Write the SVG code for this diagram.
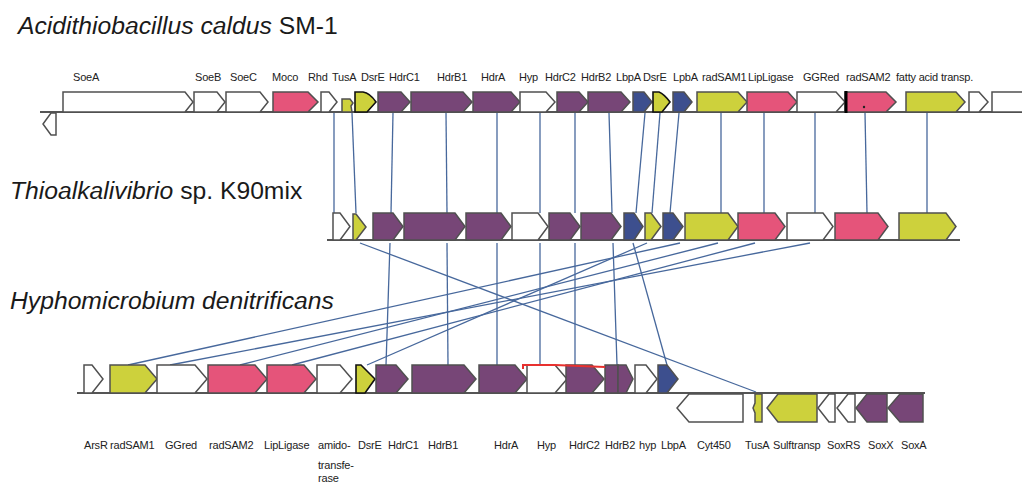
<svg xmlns="http://www.w3.org/2000/svg" width="1022" height="484" viewBox="0 0 1022 484">
<style>
.t{font-family:"Liberation Sans",Arial,sans-serif;font-size:24.7px;fill:#1a1a1a}
.i{font-style:italic}
.l{font-family:"Liberation Sans",Arial,sans-serif;font-size:11px;letter-spacing:-0.2px;fill:#222}
.g{stroke:#505050;stroke-width:1.5;stroke-linejoin:miter}
.dk{stroke:#111;stroke-width:1.6}
.w{fill:#fff}.p{fill:#774677}.k{fill:#e5547a}.y{fill:#cdd13c}.b{fill:#3d4f8e}
.base{stroke:#555;stroke-width:2}
.c line{stroke:#47689c;stroke-width:1.3}
</style>
<rect width="1022" height="484" fill="#fff"/>
<g id="titles">
<text class="t" x="18" y="34"><tspan class="i">Acidithiobacillus caldus</tspan> SM-1</text>
<text class="t" x="10" y="199"><tspan class="i">Thioalkalivibrio</tspan> sp. K90mix</text>
<text class="t i" x="10" y="309">Hyphomicrobium denitrificans</text>
</g>
<g id="connectors" class="c">
<line x1="334" y1="113" x2="334" y2="213"/>
<line x1="352" y1="113" x2="356" y2="213"/>
<line x1="393" y1="113" x2="391" y2="213"/>
<line x1="446" y1="113" x2="447" y2="213"/>
<line x1="497" y1="113" x2="497" y2="213"/>
<line x1="540" y1="113" x2="540" y2="213"/>
<line x1="575" y1="113" x2="575" y2="213"/>
<line x1="609" y1="113" x2="612" y2="213"/>
<line x1="645" y1="113" x2="636" y2="213"/>
<line x1="660" y1="113" x2="652" y2="213"/>
<line x1="679" y1="113" x2="670" y2="213"/>
<line x1="721" y1="113" x2="721" y2="213"/>
<line x1="764" y1="113" x2="764" y2="213"/>
<line x1="815" y1="113" x2="815" y2="213"/>
<line x1="865" y1="113" x2="867" y2="213"/>
<line x1="927" y1="113" x2="927" y2="213"/>
<line x1="360" y1="243" x2="756" y2="392"/>
<line x1="390" y1="243" x2="386" y2="365"/>
<line x1="447" y1="243" x2="448" y2="365"/>
<line x1="497" y1="243" x2="497" y2="365"/>
<line x1="540" y1="243" x2="540" y2="365"/>
<line x1="575" y1="243" x2="575" y2="365"/>
<line x1="613" y1="243" x2="617" y2="365"/>
<line x1="633" y1="243" x2="667" y2="365"/>
<line x1="647" y1="243" x2="367" y2="365"/>
<line x1="680" y1="243" x2="128" y2="365"/>
<line x1="718" y1="243" x2="240" y2="365"/>
<line x1="755" y1="243" x2="292" y2="365"/>
<line x1="810" y1="243" x2="170" y2="365"/>
</g>
<g id="row-acidithiobacillus">
<line class="base" x1="40" y1="112" x2="1022" y2="112"/>
<polygon class="g w" points="56,113 51,113 43,124 51,135 56,135"/>
<polygon class="g w" points="63,92 185,92 193,102 185,112 63,112"/>
<polygon class="g w" points="194,92 217,92 225,102 217,112 194,112"/>
<polygon class="g w" points="226,92 260,92 268,102 260,112 226,112"/>
<polygon class="g k" points="273,92 308,92 318,102 308,112 273,112"/>
<polygon class="g w" points="321,92 329,92 337,102 329,112 321,112"/>
<polygon class="g y" points="342,99 350,99 353,103 351,106 352,112 342,112"/>
<path class="dk y" d="M355,92 L363,92 Q370,93 376,102 L367,112 L355,112 Z"/>
<polygon class="g p" points="378,92 401,92 410,102 401,112 378,112"/>
<polygon class="g p" points="411,92 463,92 472,102 463,112 411,112"/>
<polygon class="g p" points="473,92 511,92 520,102 511,112 473,112"/>
<polygon class="g w" points="520,92 546,92 555,102 546,112 520,112"/>
<polygon class="g p" points="557,92 579,92 588,102 579,112 557,112"/>
<polygon class="g p" points="588,92 621,92 630,102 621,112 588,112"/>
<polygon class="g b" points="633,92 644,92 652,102 644,112 633,112"/>
<path class="dk y" d="M653,92 L659,92 Q664,94 670,102 L662,112 L653,112 Z"/>
<polygon class="g b" points="673,92 684,92 692,102 684,112 673,112"/>
<polygon class="g y" points="697,92 738,92 747,102 738,112 697,112"/>
<polygon class="g k" points="747,92 788,92 797,102 788,112 747,112"/>
<polygon class="g w" points="797,92 836,92 845,102 836,112 797,112"/>
<polygon class="g k" points="845,92 886,92 896,102 886,112 845,112"/>
<line x1="846" y1="91" x2="846" y2="113" stroke="#000" stroke-width="3"/>
<circle cx="864" cy="107" r="1.2" fill="#222"/>
<polygon class="g y" points="906,92 956,92 965,102 956,112 906,112"/>
<polygon class="g w" points="969,92 979,92 988,102 979,112 969,112"/>
<polygon class="g w" points="992,92 1030,92 1030,112 992,112"/>
</g>
<g id="labels-top" class="l">
<text x="73" y="81">SoeA</text>
<text x="195" y="81">SoeB</text>
<text x="230" y="81">SoeC</text>
<text x="272" y="81">Moco</text>
<text x="308" y="81">Rhd</text>
<text x="332" y="81">TusA</text>
<text x="361" y="81">DsrE</text>
<text x="389" y="81">HdrC1</text>
<text x="437" y="81">HdrB1</text>
<text x="481" y="81">HdrA</text>
<text x="519" y="81">Hyp</text>
<text x="545" y="81">HdrC2</text>
<text x="581" y="81">HdrB2</text>
<text x="616" y="81">LbpA</text>
<text x="643" y="81">DsrE</text>
<text x="673" y="81">LpbA</text>
<text x="702" y="81">radSAM1</text>
<text x="748" y="81">LipLigase</text>
<text x="803" y="81">GGRed</text>
<text x="846" y="81">radSAM2</text>
<text x="896" y="81">fatty acid transp.</text>
</g>
<g id="row-thioalkalivibrio">
<line class="base" x1="327" y1="240" x2="960" y2="240"/>
<polygon class="g w" points="333,213 340,213 350,226.5 340,240 333,240"/>
<polygon class="g y" points="353,214 356,214 366,227 356,240 353,240"/>
<polygon class="g p" points="373,213 393,213 403,226.5 393,240 373,240"/>
<polygon class="g p" points="404,213 455,213 465,226.5 455,240 404,240"/>
<polygon class="g p" points="466,213 501,213 511,226.5 501,240 466,240"/>
<polygon class="g w" points="512,213 538,213 548,226.5 538,240 512,240"/>
<polygon class="g p" points="549,213 570,213 580,226.5 570,240 549,240"/>
<polygon class="g p" points="581,213 611,213 621,226.5 611,240 581,240"/>
<polygon class="g b" points="624,213 634,213 643,226.5 634,240 624,240"/>
<polygon class="g y" points="645,213 651,213 661,226.5 651,240 645,240"/>
<polygon class="g b" points="663,213 673,213 683,226.5 673,240 663,240"/>
<polygon class="g y" points="685,213 728,213 738,226.5 728,240 685,240"/>
<polygon class="g k" points="738,213 775,213 785,226.5 775,240 738,240"/>
<polygon class="g w" points="787,213 823,213 833,226.5 823,240 787,240"/>
<polygon class="g k" points="835,213 878,213 888,226.5 878,240 835,240"/>
<polygon class="g y" points="899,213 946,213 956,226.5 946,240 899,240"/>
</g>
<g id="row-hyphomicrobium">
<line class="base" x1="77" y1="393" x2="925" y2="393"/>
<polygon class="g w" points="84,365 92,365 103,379 92,393 84,393"/>
<polygon class="g y" points="110,365 145,365 157,379 145,393 110,393"/>
<polygon class="g w" points="157,365 195,365 207,379 195,393 157,393"/>
<polygon class="g k" points="208,365 255,365 267,379 255,393 208,393"/>
<polygon class="g k" points="267,365 304,365 316,379 304,393 267,393"/>
<polygon class="g w" points="317,365 340,365 352,379 340,393 317,393"/>
<polygon class="dk y" points="356,365 361,365 375,379 365,393 356,393"/>
<polygon class="g p" points="376,365 396,365 408,379 396,393 376,393"/>
<polygon class="g p" points="412,365 464,365 476,379 464,393 412,393"/>
<polygon class="g p" points="479,365 515,365 527,379 515,393 479,393"/>
<polygon class="g w" points="527,365 555,365 567,379 555,393 527,393"/>
<polygon class="g p" points="566,365 592,365 604,379 592,393 566,393"/>
<polygon class="g p" points="605,365 618,365 618,393 605,393"/>
<polygon class="g p" points="618,365 626,365 633,379 626,393 618,393"/>
<polygon class="g w" points="635,365 646,365 657,379 646,393 635,393"/>
<polygon class="g b" points="658,365 667,365 678,379 667,393 658,393"/>
<polyline points="523,369 523,365 555,365 605,367" fill="none" stroke="#e8312f" stroke-width="2"/>
<polygon class="g w" points="743,394 689,394 677,408 689,422 743,422"/>
<polygon class="g y" points="755,394 762,394 762,422 755,422 755,413 753,408 755,403"/>
<polygon class="g y" points="817,394 778,394 767,408 778,422 817,422"/>
<polygon class="g w" points="835,394 829,394 818,408 829,422 835,422"/>
<polygon class="g w" points="855,394 848,394 837,408 848,422 855,422"/>
<polygon class="g p" points="887,394 867,394 856,408 867,422 887,422"/>
<polygon class="g p" points="923,394 900,394 888,408 900,422 923,422"/>
</g>
<g id="labels-bottom" class="l">
<text x="84" y="449">ArsR</text>
<text x="110" y="449">radSAM1</text>
<text x="165" y="449">GGred</text>
<text x="209" y="449">radSAM2</text>
<text x="264" y="449">LipLigase</text>
<text x="318" y="449">amido-</text>
<text x="318" y="469">transfe-</text>
<text x="318" y="482">rase</text>
<text x="358" y="449">DsrE</text>
<text x="388" y="449">HdrC1</text>
<text x="428" y="449">HdrB1</text>
<text x="494" y="449">HdrA</text>
<text x="537" y="449">Hyp</text>
<text x="569" y="449">HdrC2</text>
<text x="605" y="449">HdrB2</text>
<text x="639" y="449">hyp</text>
<text x="661" y="449">LbpA</text>
<text x="697" y="449">Cyt450</text>
<text x="745" y="449">TusA</text>
<text x="773" y="449">Sulftransp</text>
<text x="827" y="449">SoxRS</text>
<text x="868" y="449">SoxX</text>
<text x="901" y="449">SoxA</text>
</g>
</svg>
